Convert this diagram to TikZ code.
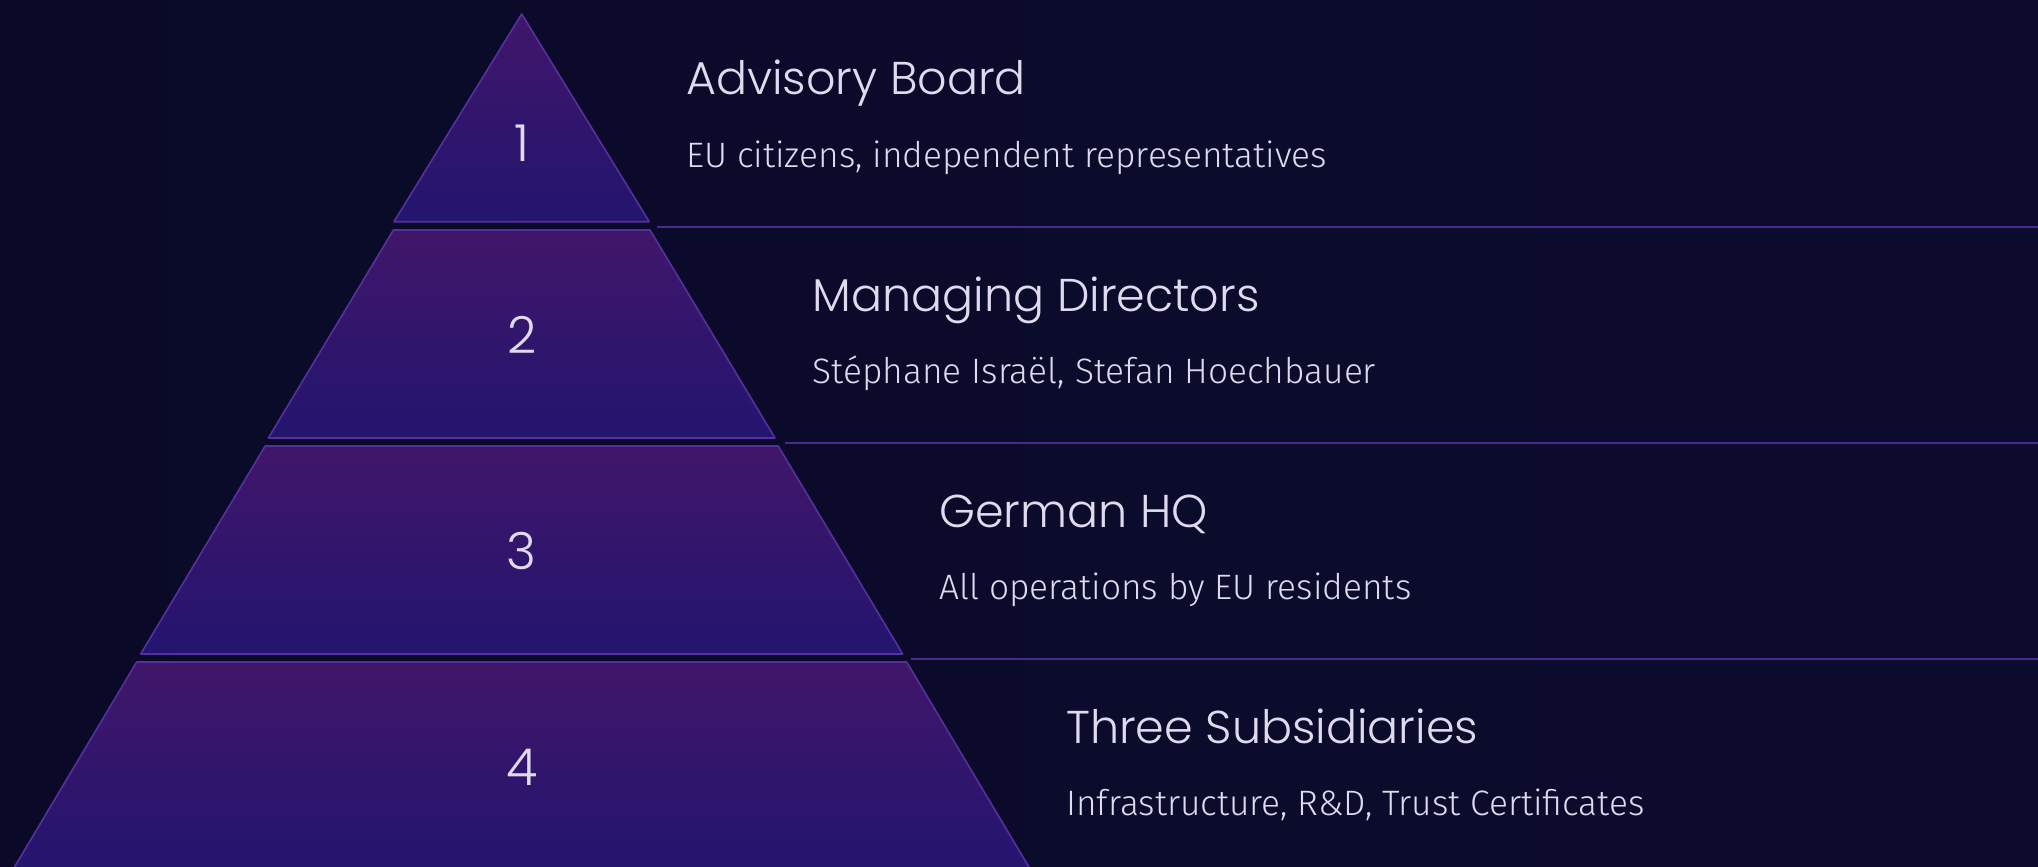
\documentclass[tikz,border=0pt]{standalone}
\usepackage{fontspec}
\newfontfamily\titlefont{Poppins Light}
\newfontfamily\subfont{Fira Sans Light}
\definecolor{bgL}{HTML}{0A0A28}
\definecolor{bgM}{HTML}{120C33}
\definecolor{bgR}{HTML}{0C0B2E}
\definecolor{tiertop}{HTML}{40166A}
\definecolor{tierbot}{HTML}{23156E}
\definecolor{edge}{HTML}{55309E}
\definecolor{sep}{HTML}{4A2A8E}
\definecolor{txt}{HTML}{E0DAEE}
\tikzset{
  tier/.style={top color=tiertop, bottom color=tierbot},
  tieredge/.style={draw=edge, line width=1.6pt, line join=round},
  sepline/.style={draw=sep, line width=2pt},
  num/.style={text=txt, font=\titlefont\fontsize{51}{51}\selectfont, inner sep=0pt, anchor=center},
  ttl/.style={text=txt, font=\titlefont\fontsize{46}{46}\selectfont, inner sep=0pt, anchor=base west},
  sub/.style={text=txt, font=\subfont\fontsize{35.3}{35.3}\selectfont, inner sep=0pt, anchor=base west}
}
\begin{document}
\begin{tikzpicture}[x=1pt,y=-1pt]
\useasboundingbox (0,0) rectangle (2038,867);
\clip (0,0) rectangle (2038,867);
\shade[left color=bgL, middle color=bgM, right color=bgR] (0,0) rectangle (2038,867);

% tiers
\shade[tier] (521.7,14) -- (649.3,221.7) -- (394,221.7) -- cycle;
\draw[tieredge] (521.7,14) -- (649.3,221.7) -- (394,221.7) -- cycle;
\shade[tier] (393.4,230) -- (650,230) -- (775,438) -- (268.4,438) -- cycle;
\draw[tieredge] (393.4,230) -- (650,230) -- (775,438) -- (268.4,438) -- cycle;
\shade[tier] (265.2,446) -- (778.2,446) -- (902.7,654) -- (140.7,654) -- cycle;
\draw[tieredge] (265.2,446) -- (778.2,446) -- (902.7,654) -- (140.7,654) -- cycle;
\shade[tier] (136.7,662) -- (906.7,662) -- (1030.7,870) -- (12.7,870) -- cycle;
\draw[tieredge] (136.7,662) -- (906.7,662) -- (1030.7,870) -- (12.7,870) -- cycle;

% separator lines
\coordinate (s1a) at (657,226.7);  \coordinate (s1b) at (2038,226.7);
\coordinate (s2a) at (785,442.7);  \coordinate (s2b) at (2038,442.7);
\coordinate (s3a) at (911,658.7);  \coordinate (s3b) at (2038,658.7);
\draw[sepline] (s1a) -- (s1b);
\draw[sepline] (s2a) -- (s2b);
\draw[sepline] (s3a) -- (s3b);

% numbers
\node[num] (n1) at (521.7,143) {1};
\node[num] (n2) at (521.7,335) {2};
\node[num] (n3) at (521.7,551) {3};
\node[num] (n4) at (521.7,767) {4};

% labels
\node[ttl] (t1) at (686,95) {Advisory Board};
\node[sub] (d1) at (686,167) {EU citizens, independent representatives};
\node[ttl] (t2) at (812.5,311) {Managing Directors};
\node[sub] (d2) at (812.5,383) {Stéphane Israël, Stefan Hoechbauer};
\node[ttl] (t3) at (939,527) {German HQ};
\node[sub] (d3) at (939,599) {All operations by EU residents};
\node[ttl] (t4) at (1066,743) {Three Subsidiaries};
\node[sub] (d4) at (1066,815) {Infrastructure, R\&D, Trust Certificates};
\end{tikzpicture}
\end{document}
